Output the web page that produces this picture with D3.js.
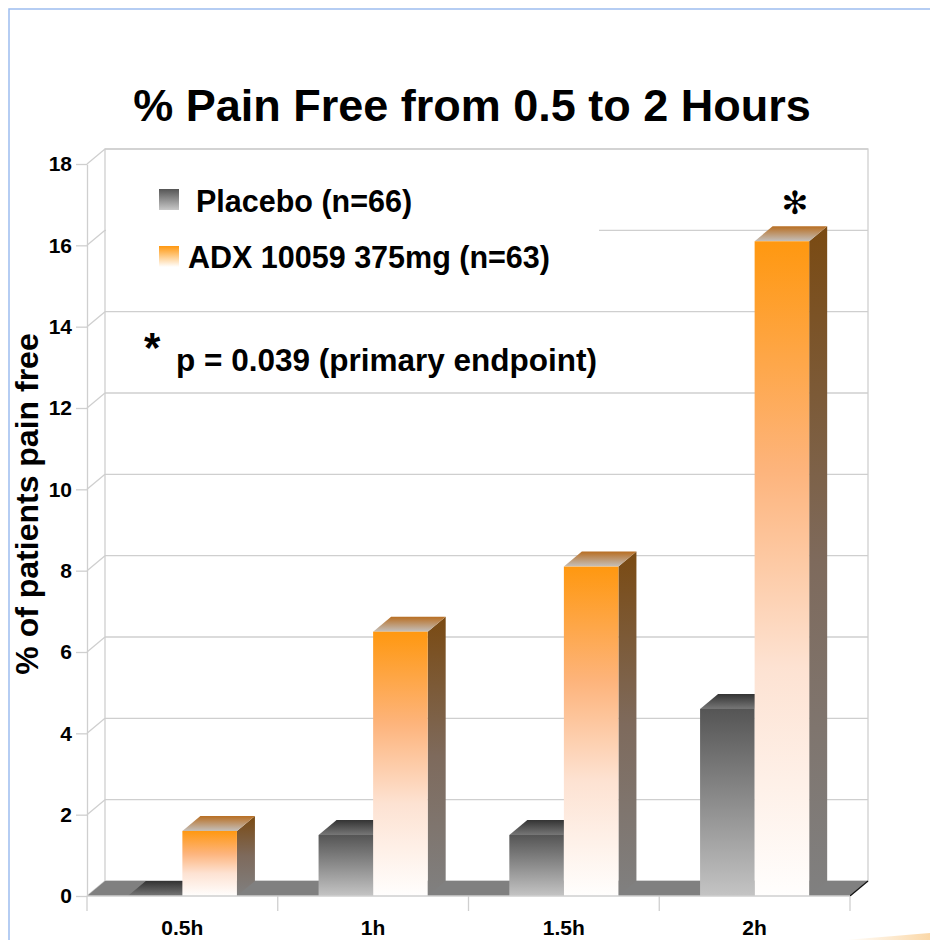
<!DOCTYPE html>
<html>
<head>
<meta charset="utf-8">
<script src="https://cdn.jsdelivr.net/npm/d3@7"></script>
<style>
  html, body { margin: 0; padding: 0; background: #ffffff; }
  svg { display: block; }
  text { font-family: "Liberation Sans", Arial, sans-serif; font-weight: bold; fill: #000; }
</style>
</head>
<body>
<svg id="chart" width="930" height="940"></svg>
<script>
// ---- data ----
const categories = ["0.5h", "1h", "1.5h", "2h"];
const placeboValues = [0, 1.5, 1.5, 4.6];
const adxValues = [1.6, 6.5, 8.1, 16.1];
const seriesNames = ["Placebo (n=66)", "ADX 10059 375mg (n=63)"];
const yTicks = [0, 2, 4, 6, 8, 10, 12, 14, 16, 18];
const titleText = "% Pain Free from 0.5 to 2 Hours";
const yLabelText = "% of patients pain free";
const noteText = "p = 0.039 (primary endpoint)";
const significant = ["2h"];

(function () {
// ---- layout ----
const svg = d3.select("#chart");
const pLeft = 87, pRight = 850, pBottom = 896, pTop = 164;
const dx = 18, dy = -15;

const x = d3.scaleBand().domain(categories).range([pLeft, pRight]).paddingInner(0).paddingOuter(0);
const y = d3.scaleLinear().domain([0, 18]).range([pBottom, pTop]);
const barW = x.bandwidth() * 0.286;

// ---- gradients ----
const defs = svg.append("defs");
function vGrad(id, stops) {
  const g = defs.append("linearGradient").attr("id", id)
    .attr("x1", 0).attr("y1", 0).attr("x2", 0).attr("y2", 1);
  stops.forEach(s => g.append("stop").attr("offset", s[0]).attr("stop-color", s[1]));
}
vGrad("orFront", [[0, "#ff9810"], [0.35, "#fdb47c"], [0.65, "#fde2d2"], [1, "#fffefd"]]);
vGrad("orSide", [[0, "#7a4a12"], [0.5, "#7e6a5c"], [1, "#808080"]]);
vGrad("orTop", [[0, "#b86e22"], [1, "#c4c0bc"]]);
vGrad("plFront", [[0, "#555555"], [1, "#c4c4c4"]]);
vGrad("plTop", [[0, "#333333"], [1, "#777777"]]);
vGrad("plSide", [[0, "#555555"], [1, "#808080"]]);
vGrad("legPl", [[0, "#555555"], [1, "#c8c8c8"]]);
vGrad("legOr", [[0, "#ff9810"], [1, "#ffffff"]]);
const sw = defs.append("linearGradient").attr("id", "swoosh")
  .attr("x1", 0).attr("y1", 0).attr("x2", 1).attr("y2", 0);
sw.append("stop").attr("offset", 0).attr("stop-color", "#ffffff");
sw.append("stop").attr("offset", 1).attr("stop-color", "#fbd8a8");

// ---- page border ----
svg.append("path").attr("d", "M9,940 V9 H930").attr("fill", "none")
  .attr("stroke", "#9dbdf0").attr("stroke-width", 1.5);

// ---- title ----
svg.append("text").attr("x", 472).attr("y", 121).attr("text-anchor", "middle")
  .style("font-size", "45px").text(titleText);

const gridColor = "#cfcfcf";
// ---- back wall ----
svg.append("rect").attr("x", pLeft + dx).attr("y", y(18) + dy)
  .attr("width", pRight - pLeft).attr("height", y(0) - y(18))
  .attr("fill", "#ffffff").attr("stroke", gridColor).attr("stroke-width", 1.3);
yTicks.forEach(t => {
  svg.append("line").attr("x1", pLeft + dx).attr("x2", pRight + dx)
    .attr("y1", y(t) + dy).attr("y2", y(t) + dy)
    .attr("stroke", gridColor).attr("stroke-width", 1.3);
  svg.append("line").attr("x1", pLeft).attr("x2", pLeft + dx)
    .attr("y1", y(t)).attr("y2", y(t) + dy)
    .attr("stroke", gridColor).attr("stroke-width", 1.3);
});

// ---- legend box (covers grid) ----
svg.append("rect").attr("x", pLeft + dx + 1).attr("y", y(18) + dy + 2)
  .attr("width", 493).attr("height", 142).attr("fill", "#ffffff");

// ---- floor ----
svg.append("path")
  .attr("d", `M${pLeft},${y(0)} L${pRight},${y(0)} L${pRight + dx},${y(0) + dy} L${pLeft + dx},${y(0) + dy} Z`)
  .attr("fill", "#808080");
svg.append("line").attr("x1", pRight).attr("y1", y(0)).attr("x2", pRight + dx).attr("y2", y(0) + dy)
  .attr("stroke", "#111").attr("stroke-width", 1.2);

// ---- bars ----
function bar3d(g, x0, v, front, side, topF) {
  const y0 = y(0), y1 = y(v);
  const x1 = x0 + barW;
  g.append("path")
    .attr("d", `M${x1},${y1} L${x1 + dx},${y1 + dy} L${x1 + dx},${y0 + dy} L${x1},${y0} Z`)
    .attr("fill", `url(#${side})`);
  g.append("path")
    .attr("d", `M${x0},${y1} L${x0 + dx},${y1 + dy} L${x1 + dx},${y1 + dy} L${x1},${y1} Z`)
    .attr("fill", `url(#${topF})`);
  if (v > 0) {
    g.append("rect").attr("x", x0).attr("y", y1).attr("width", barW).attr("height", y0 - y1)
      .attr("fill", `url(#${front})`);
  }
}
const barsG = svg.append("g");
categories.forEach((c, i) => {
  const cx = x(c) + x.bandwidth() / 2;
  bar3d(barsG, cx - barW, placeboValues[i], "plFront", "plSide", "plTop");
  bar3d(barsG, cx, adxValues[i], "orFront", "orSide", "orTop");
});

// ---- front y axis ----
const yAxis = d3.axisLeft(y).tickValues(yTicks).tickSize(11).tickPadding(4).tickSizeOuter(0);
const yg = svg.append("g").attr("transform", `translate(${pLeft},0)`).call(yAxis);
yg.select(".domain").attr("stroke", gridColor).attr("stroke-width", 1.3);
yg.selectAll(".tick line").attr("stroke", gridColor).attr("stroke-width", 1.3);
yg.selectAll(".tick text").style("font-size", "21px").style("font-family", "'Liberation Sans', Arial, sans-serif")
  .style("font-weight", "bold").attr("fill", "#000");

// ---- front x axis ----
svg.append("line").attr("x1", pLeft).attr("x2", pRight).attr("y1", y(0)).attr("y2", y(0))
  .attr("stroke", gridColor).attr("stroke-width", 1.3);
const bounds = categories.map(c => x(c)).concat([x(categories[categories.length - 1]) + x.bandwidth()]);
bounds.forEach(b => {
  svg.append("line").attr("x1", b).attr("x2", b).attr("y1", y(0)).attr("y2", y(0) + 15)
    .attr("stroke", gridColor).attr("stroke-width", 1.3);
});
categories.forEach(c => {
  svg.append("text").attr("x", x(c) + x.bandwidth() / 2).attr("y", 935)
    .attr("text-anchor", "middle").style("font-size", "21px").text(c);
});

// ---- y label ----
svg.append("text").attr("transform", "translate(38,504) rotate(-90)")
  .attr("text-anchor", "middle").style("font-size", "32px").text(yLabelText);

// ---- legend ----
svg.append("rect").attr("x", 159).attr("y", 189).attr("width", 20).attr("height", 21).attr("fill", "url(#legPl)");
svg.append("text").attr("x", 196).attr("y", 212).style("font-size", "30.5px").text(seriesNames[0]);
svg.append("rect").attr("x", 159).attr("y", 246).attr("width", 20).attr("height", 21).attr("fill", "url(#legOr)");
svg.append("text").attr("x", 188).attr("y", 268).style("font-size", "30.5px").text(seriesNames[1]);

// ---- note ----
svg.append("text").attr("x", 144).attr("y", 362).style("font-size", "42px").text("*");
svg.append("text").attr("x", 176).attr("y", 371).style("font-size", "31.5px").text(noteText);

// ---- significance marker ----
significant.forEach(c => {
  const cx = x(c) + x.bandwidth() / 2 + barW / 2 + dx / 2;
  svg.append("text").attr("x", cx + 4).attr("y", 214).attr("text-anchor", "middle")
    .style("font-family", "'DejaVu Sans', sans-serif").style("font-weight", "bold")
    .style("font-size", "32px").text("\u273B");
});

// ---- decorative swoosh bottom-right ----
svg.append("path").attr("d", "M845,940 Q895,936 930,933 L930,940 Z").attr("fill", "url(#swoosh)");
})();
</script>
</body>
</html>
